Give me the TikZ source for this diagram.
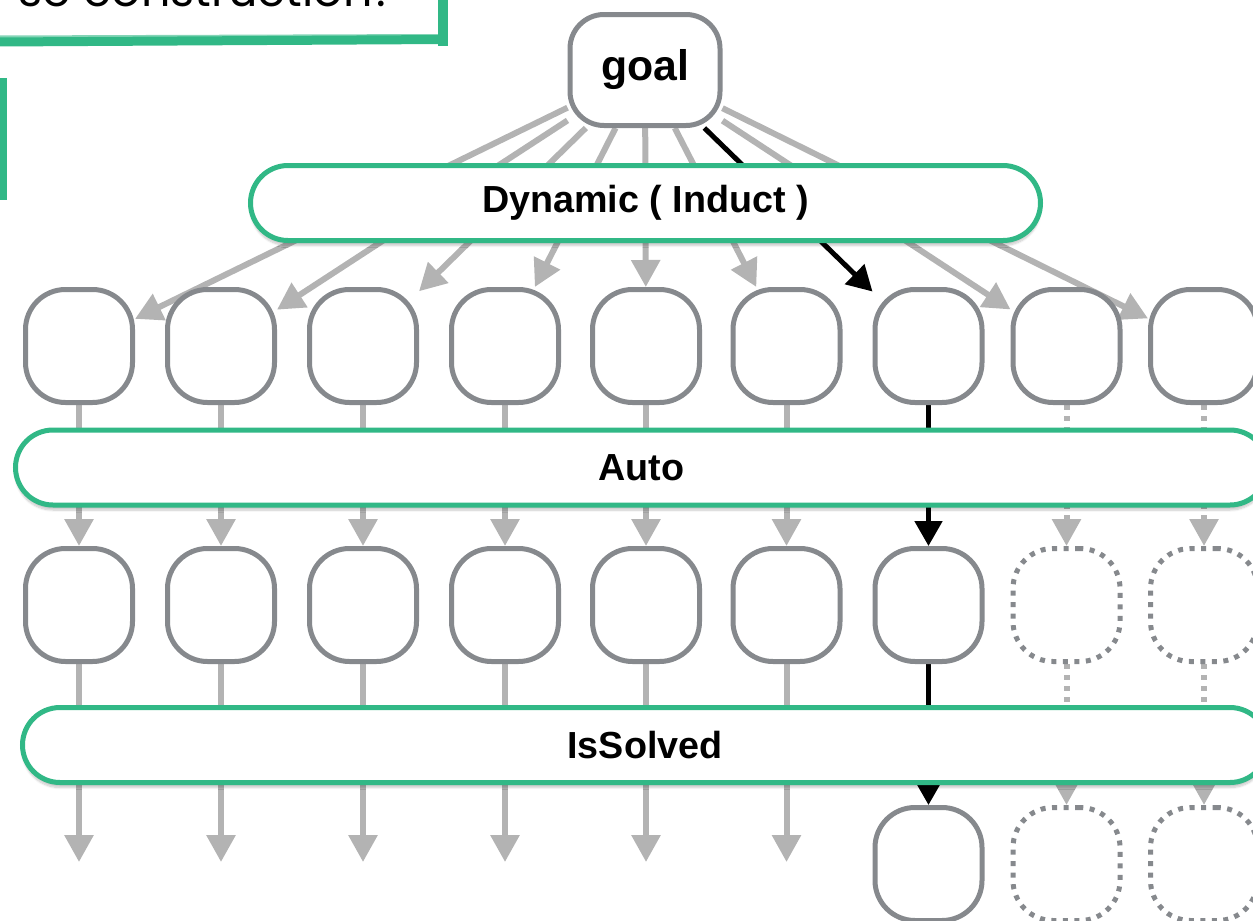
\documentclass[tikz,border=0pt]{standalone}
\usepackage{fontspec}
\setmainfont{Liberation Sans}
\newfontfamily\headfont{Poppins}
\usetikzlibrary{arrows.meta,shadows.blur}
\pgfdeclarelayer{background}
\pgfsetlayers{background,main}
\definecolor{tgreen}{HTML}{31B886}
\definecolor{boxgray}{HTML}{86898D}
\definecolor{linegray}{HTML}{B3B3B3}
\begin{document}
\begin{tikzpicture}[x=1pt,y=-1pt,
  cell/.style={draw=boxgray, line width=5pt, fill=white, rounded corners=40pt,
    minimum width=107pt, minimum height=113pt, inner sep=0pt},
  ghost/.style={cell, fill=none, dash pattern=on 5pt off 6.5pt},
  tactic/.style={draw=tgreen, line width=5pt, fill=white, rounded corners=37.5pt,
    minimum height=75pt, inner sep=0pt, font=\fontsize{37.7}{40}\selectfont\bfseries,
    blur shadow={shadow xshift=0pt, shadow yshift=-5pt, shadow blur steps=8, shadow opacity=22}},
  tip/.style={-{Triangle[length=27pt,width=28pt]}},
  flow/.style={draw=linegray, line width=6pt, tip},
  hot/.style={draw=black, line width=5pt, -{Triangle[length=25pt,width=27pt]}},
  faint/.style={draw=linegray, line width=6pt, dash pattern=on 5pt off 6pt, tip},
  brush/.style={draw=tgreen, line cap=butt}
]
\useasboundingbox (0,0) rectangle (1253,921);

% caption fragment with its brushed frame
\node[anchor=base east, inner sep=0pt, font=\headfont\fontsize{46}{50}\selectfont] (head) at (397,6) {se construction?};
\draw[brush, line width=9pt] (-2,42) -- (446,39.5);
\draw[brush, line width=3pt, opacity=0.6] (-2,37) -- (440,35.5);
\draw[brush, line width=10pt] (443,-2) -- (443,46);
\draw[brush, line width=7pt] (3.5,78) -- (3.5,200);

% goal and tactic bars
\node[cell, minimum width=150pt, minimum height=111pt, rounded corners=34pt,
  font=\fontsize{42.8}{44}\selectfont\bfseries] (goal) at (645,70) {\raisebox{-3pt}{goal}};
\node[tactic, minimum width=790pt] (dyn) at (645.5,203) {Dynamic ( Induct )};
\node[tactic, minimum width=1252pt] (auto) at (641.5,467.5) {Auto};
\node[tactic, minimum width=1245pt] (solved) at (645,745) {IsSolved};

% subgoal rows
\foreach \i/\x in {1/79,2/221,3/363,4/505,5/646,6/786.5,7/928.5,8/1066.5,9/1204}
  \node[cell] (a\i) at (\x,346) {};
\foreach \i/\x in {1/79,2/221,3/363,4/505,5/646,6/786.5,7/928.5}
  \node[cell] (b\i) at (\x,605) {};
\foreach \i/\x in {8/1066.5,9/1204}
  \node[ghost] (b\i) at (\x,605) {};
\node[cell] (c7) at (928.5,864) {};
\foreach \i/\x in {8/1066.5,9/1204}
  \node[ghost] (c\i) at (\x,864) {};
\foreach \i/\x in {1/79,2/221,3/363,4/505,5/646,6/786.5}
  \coordinate (e\i) at (\x,862);

% connectors, behind every node
\begin{pgfonlayer}{background}
  \foreach \i in {1,2,3,4,5,6,8,9}
    \draw[flow] (goal) -- (a\i);
  \draw[hot] (goal) -- (a7);
  \foreach \i in {1,...,6}
    \draw[flow] (a\i) -- (b\i);
  \draw[hot] (a7) -- (b7);
  \foreach \i in {8,9}
    \draw[faint] (a\i) -- (b\i);
  \foreach \i in {1,...,6}
    \draw[flow] (b\i) -- (e\i);
  \draw[hot] (b7) -- (c7);
  \foreach \i in {8,9}
    \draw[faint] (b\i) -- (c\i);
\end{pgfonlayer}
\end{tikzpicture}
\end{document}
